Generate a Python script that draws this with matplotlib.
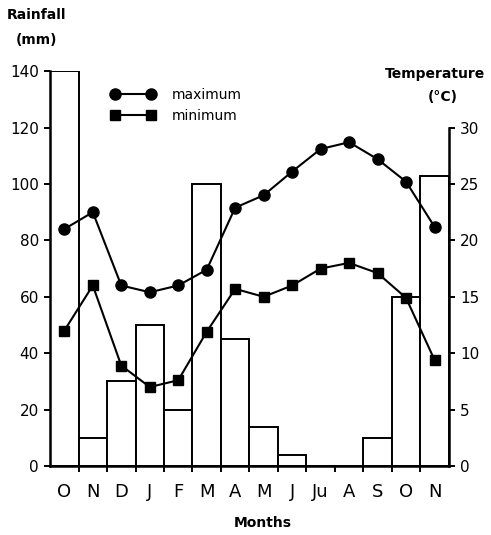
import numpy as np
import matplotlib.pyplot as plt

# monthly climate data, Oct to Nov of the following year
months = ['O', 'N', 'D', 'J', 'F', 'M', 'A', 'M', 'J', 'Ju', 'A', 'S', 'O', 'N']
rainfall = [140, 10, 30, 50, 20, 100, 45, 14, 4, 0, 0, 10, 60, 103]
t_max = [21.0, 22.5, 16.0, 15.4, 16.0, 17.4, 22.9, 24.0, 26.1, 28.1, 28.7, 27.2, 25.2, 21.2]
t_min = [12.0, 16.0, 8.9, 7.0, 7.6, 11.9, 15.7, 15.0, 16.0, 17.5, 18.0, 17.1, 14.9, 9.4]
rain_ticks = [0, 20, 40, 60, 80, 100, 120, 140]
temp_ticks = [0, 5, 10, 15, 20, 25, 30]

plt.rcParams['font.family'] = 'DejaVu Sans'

fig = plt.figure(figsize=(4.91, 5.35), dpi=100)
ax = fig.add_axes([0.102, 0.129, 0.812, 0.738])
x = np.arange(len(months))

ax.bar(x, rainfall, width=1.0, color='white', edgecolor='black', linewidth=1.4, zorder=1)
ax.set_xlim(-0.5, len(months) - 0.5)
ax.set_ylim(0, 140)
ax.set_yticks(rain_ticks)
ax.set_yticklabels([str(v) for v in rain_ticks], fontsize=11)
ax.set_xticks(x)
ax.set_xticklabels(months, fontsize=13)
ax.set_xticks(x[:-1] + 0.5, minor=True)
ax.tick_params(axis='x', which='major', length=0, pad=12)
ax.tick_params(axis='x', which='minor', length=4, width=1.4, direction='out')
ax.tick_params(axis='y', length=4, width=1.4, direction='out', pad=4)
for s in ['top', 'right']:
    ax.spines[s].set_visible(False)
for s in ['left', 'bottom']:
    ax.spines[s].set_linewidth(1.8)

ax2 = ax.twinx()
ax2.set_ylim(0, 35)
ax2.plot(x, t_max, color='black', marker='o', markersize=8, linewidth=1.5, label='maximum')
ax2.plot(x, t_min, color='black', marker='s', markersize=7, linewidth=1.5, label='minimum')
ax2.set_yticks(temp_ticks)
ax2.set_yticklabels([str(v) for v in temp_ticks], fontsize=11)
ax2.spines['right'].set_bounds(0, 30)
ax2.spines['right'].set_linewidth(1.8)
for s in ['top', 'left', 'bottom']:
    ax2.spines[s].set_visible(False)
ax2.tick_params(axis='y', length=4, width=1.4, direction='out', pad=4)

leg = ax2.legend(loc='upper left', bbox_to_anchor=(0.12, 0.99), frameon=False,
                 numpoints=2, handlelength=3.2, handletextpad=1.2,
                 fontsize=10, labelspacing=0.5)

fig.text(0.075, 0.972, 'Rainfall', fontsize=10, fontweight='bold', ha='center', va='center')
fig.text(0.075, 0.925, '(mm)', fontsize=10, fontweight='bold', ha='center', va='center')
fig.text(0.885, 0.862, 'Temperature', fontsize=10, fontweight='bold', ha='center', va='center')
fig.text(0.902, 0.818, '(°C)', fontsize=10, fontweight='bold', ha='center', va='center')
fig.text(0.535, 0.022, 'Months', fontsize=10, fontweight='bold', ha='center', va='center')

fig.savefig('out.png', dpi=100)
